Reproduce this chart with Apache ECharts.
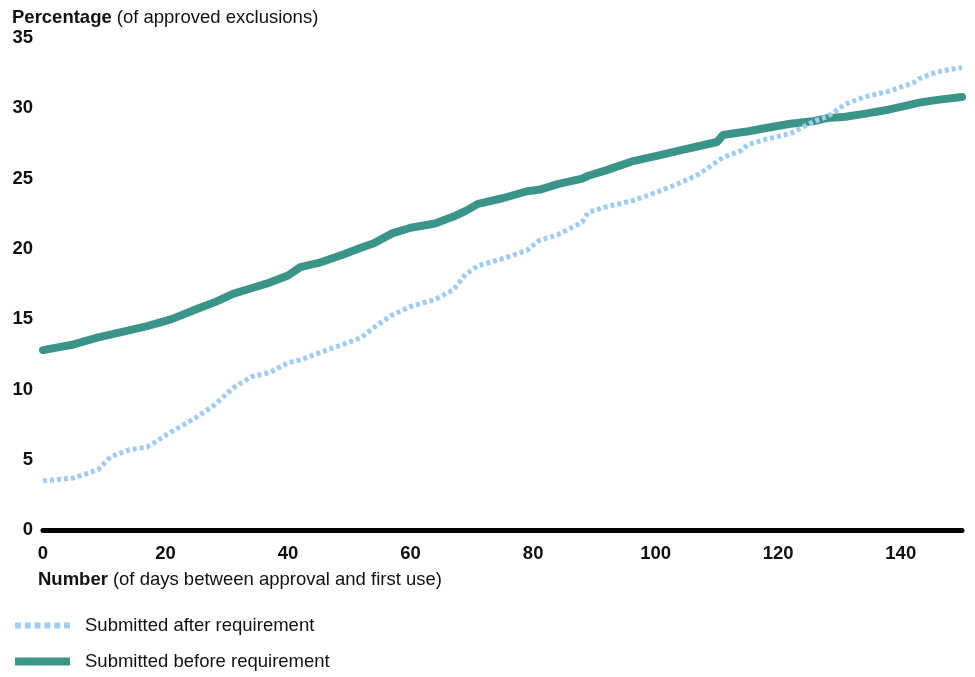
<!DOCTYPE html>
<html>
<head>
<meta charset="utf-8">
<script src="https://cdn.jsdelivr.net/npm/echarts@6/dist/echarts.min.js"></script>
<style>
  html, body { margin: 0; padding: 0; background: #fff; }
  #chart { width: 975px; height: 677px; }
</style>
</head>
<body>
<div id="chart"></div>
<script>
  // days between approval and first use
  const days = [0, 5, 9, 11, 14, 17, 21, 25, 28, 31, 34, 37, 40, 42, 45, 49, 52, 54, 57, 60,
    64, 67, 69, 71, 75, 79, 81, 84, 88, 89, 92, 96, 100, 104, 107, 110, 111, 114, 115, 118,
    122, 126, 128, 131, 134, 138, 142, 143, 146, 150]
  const afterReq = [3.5, 3.7, 4.3, 5.2, 5.7, 5.9, 7.0, 8.0, 8.9, 10.1, 10.9, 11.2, 11.9, 12.1, 12.6, 13.2, 13.7, 14.4, 15.3, 15.9,
    16.4, 17.1, 18.2, 18.8, 19.3, 19.9, 20.6, 21.0, 21.9, 22.6, 23.0, 23.4, 24.0, 24.7, 25.3, 26.2, 26.5, 27.0, 27.4, 27.8,
    28.2, 29.1, 29.4, 30.3, 30.8, 31.2, 31.8, 32.1, 32.6, 32.9]
  const beforeReq = [12.8, 13.2, 13.7, 13.9, 14.2, 14.5, 15.0, 15.7, 16.2, 16.8, 17.2, 17.6, 18.1, 18.7, 19.0, 19.6, 20.1, 20.4, 21.1, 21.5,
    21.8, 22.3, 22.7, 23.2, 23.6, 24.1, 24.2, 24.6, 25.0, 25.2, 25.6, 26.2, 26.6, 27.0, 27.3, 27.6, 28.1, 28.3, 28.35, 28.6,
    28.9, 29.1, 29.3, 29.4, 29.6, 29.9, 30.3, 30.4, 30.6, 30.8]
  const seriesNames = ['Submitted after requirement', 'Submitted before requirement']

  const font = 'Arial, "Liberation Sans", sans-serif'
  const fs = 18.5
  const blue = '#a0ccf4'
  const teal = '#3a9488'
  const pairs = (vals) => days.map((d, i) => [d, vals[i]])

  // row of little squares for the dotted legend key
  const dotsIcon = 'path://M0,0h6v6h-6z M9.8,0h6v6h-6z M19.6,0h6v6h-6z M29.4,0h6v6h-6z M39.2,0h6v6h-6z M49,0h6v6h-6z'

  const axisTitle = (left, top, bold, rest) => ({
    left: left, top: top,
    text: '{b|' + bold + '} {n|' + rest + '}',
    textStyle: {
      rich: {
        b: { fontFamily: font, fontSize: fs, fontWeight: 'bold', color: '#111' },
        n: { fontFamily: font, fontSize: fs, fontWeight: 'normal', color: '#111' }
      }
    }
  })

  const legendText = { fontFamily: font, fontSize: fs, color: '#111', padding: [0, 0, 0, 10] }

  const chart = echarts.init(document.getElementById('chart'))
  chart.setOption({
    animation: false,
    textStyle: { fontFamily: font },
    title: [
      axisTitle(7, 3, 'Percentage', '(of approved exclusions)'),
      axisTitle(33, 565, 'Number', '(of days between approval and first use)')
    ],
    grid: { left: 43, right: 13, top: 38, bottom: 147 },
    legend: [
      {
        left: 10, top: 611,
        itemWidth: 55, itemHeight: 6,
        icon: dotsIcon,
        textStyle: legendText,
        data: [seriesNames[0]]
      },
      {
        left: 10, top: 647,
        itemWidth: 55, itemHeight: 8,
        icon: 'rect',
        textStyle: legendText,
        data: [seriesNames[1]]
      }
    ],
    xAxis: {
      type: 'value',
      min: 0, max: 150, interval: 20,
      axisLine: { show: true, onZero: false, lineStyle: { color: '#000', width: 5 } },
      axisTick: { show: false },
      splitLine: { show: false },
      axisLabel: {
        showMaxLabel: false,
        margin: 14,
        fontFamily: font, fontSize: fs, fontWeight: 'bold', color: '#111'
      }
    },
    yAxis: {
      type: 'value',
      min: 0, max: 35, interval: 5,
      axisLine: { show: false },
      axisTick: { show: false },
      splitLine: { show: false },
      axisLabel: {
        margin: 10,
        fontFamily: font, fontSize: fs, fontWeight: 'bold', color: '#111'
      }
    },
    series: [
      {
        name: seriesNames[0],
        type: 'line',
        symbol: 'none',
        z: 3,
        lineStyle: { color: blue, width: 5, type: [4, 3], cap: 'butt' },
        itemStyle: { color: blue },
        data: pairs(afterReq)
      },
      {
        name: seriesNames[1],
        type: 'line',
        symbol: 'none',
        z: 2,
        lineStyle: { color: teal, width: 8, cap: 'round', join: 'round' },
        itemStyle: { color: teal },
        data: pairs(beforeReq)
      }
    ]
  })
</script>
</body>
</html>
